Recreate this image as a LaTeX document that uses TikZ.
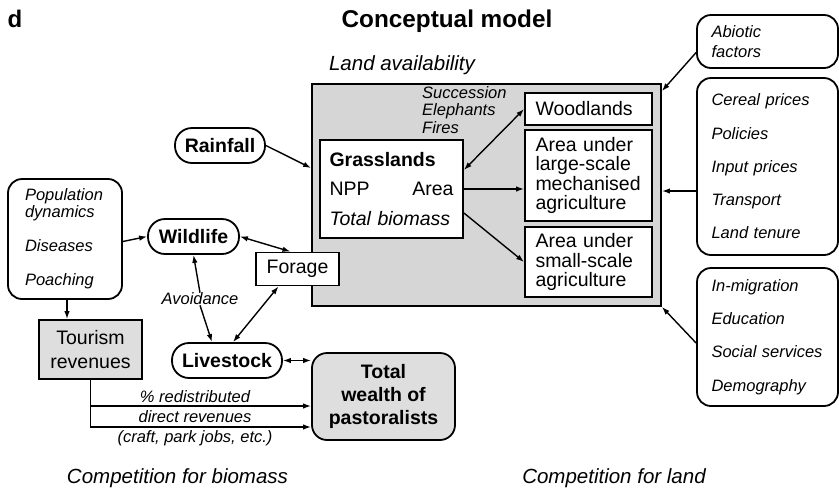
\documentclass[tikz,border=0pt]{standalone}
\usepackage{fontspec}
\setmainfont{Liberation Sans}
\usetikzlibrary{calc,
	positioning,
	arrows,
	arrows.meta,
	shapes}
\definecolor{landgray}{gray}{0.84}
\definecolor{boxgray}{gray}{0.87}
\tikzstyle{bx}=[draw, line width=1.8pt, fill=white, inner sep=0, align=left,
		font=\fontsize{19.5}{19.5}\selectfont]
\tikzstyle{lb}=[bx, minimum width=127pt, text width=106pt]
\tikzstyle{pill}=[bx, rounded corners=17pt, minimum height=35pt, align=center,
		font=\bfseries\fontsize{19.5}{19.5}\selectfont]
\tikzstyle{lst}=[draw, line width=1.8pt, rounded corners=14pt, inner sep=0,
		align=left, minimum width=141pt, text width=112pt,
		font=\itshape\fontsize{16.5}{33.3}\selectfont]
\tikzstyle{note}=[inner sep=0, align=left, font=\itshape\fontsize{16.5}{17.5}\selectfont]
\tikzstyle{big}=[inner sep=0, font=\itshape\fontsize{20.5}{20.5}\selectfont]
\tikzstyle{arr}=[-{Latex[length=8pt,width=5.5pt]}, line width=1.4pt]
\tikzstyle{darr}=[{Latex[length=8pt,width=5.5pt]}-{Latex[length=8pt,width=5.5pt]}, line width=1.4pt]

\begin{document}
\begin{tikzpicture}[x=1pt, y=-1pt]
	\useasboundingbox (0,0) rectangle (839,491);
	% headings
	\node[font=\bfseries\fontsize{24}{24}\selectfont] (d) at (15,19) {d};
	\node[font=\bfseries\fontsize{24.3}{24.3}\selectfont] (title) at (447,21) {Conceptual model};
	\node[big] (landav) at (402,65) {Land availability};
	\node[big] (compbio) at (177.5,478) {Competition for biomass};
	\node[big] (compland) at (614,478) {Competition for land};

	% land block
	\node[draw, line width=1.8pt, fill=landgray, minimum width=349pt,
		minimum height=222pt] (land) at (486.5,195) {};
	\node[bx, minimum width=143pt, minimum height=98pt, text width=124pt,
		font=\fontsize{19.5}{29.5}\selectfont] (grass) at (391.5,189)
		{\textbf{Grasslands}\\NPP\hfill Area\\\textit{Total biomass}};
	\node[note, anchor=west] (drivers) at (422,110) {Succession\\Elephants\\Fires};
	\node[lb, minimum height=32pt] (wood) at (588.5,109) {Woodlands};
	\node[lb, minimum height=91pt] (mech) at (588.5,175.5)
		{Area under\\large-scale\\mechanised\\agriculture};
	\node[lb, minimum height=70pt] (small) at (588.5,262)
		{Area under\\small-scale\\agriculture};

	% right side
	\node[lst, minimum height=53pt, font=\itshape\fontsize{16.5}{20}\selectfont]
		(abiotic) at (767.5,41.5) {Abiotic\\factors};
	\node[lst, minimum height=177pt] (prices) at (767.5,166.5)
		{Cereal prices\\Policies\\Input prices\\Transport\\Land tenure};
	\node[lst, minimum height=138pt] (social) at (767.5,337)
		{In-migration\\Education\\Social services\\Demography};

	% left side
	\node[pill, minimum width=90pt] (rain) at (220,145.5) {Rainfall};
	\node[lst, minimum width=114pt, minimum height=120pt, text width=80pt,
		font=\itshape\fontsize{16.5}{17}\selectfont] (pop) at (65,239)
		{Population\\dynamics\\[17pt]Diseases\\[17pt]Poaching};
	\node[pill, minimum width=91pt] (wild) at (193.5,236.5) {Wildlife};
	\node[bx, minimum width=83pt, minimum height=33pt, align=center] (forage) at (297.5,269) {Forage};
	\node[note] (avoid) at (200,299) {Avoidance};
	\node[pill, minimum width=110pt] (live) at (227,360.5) {Livestock};
	\node[bx, fill=boxgray, minimum width=103pt, minimum height=59pt, align=center,
		font=\fontsize{19.5}{24}\selectfont] (tour) at (90.5,349.5) {Tourism\\revenues};
	\node[bx, fill=boxgray, rounded corners=15pt, minimum width=143pt, minimum height=87pt,
		align=center, font=\bfseries\fontsize{19.5}{23}\selectfont] (wealth) at (383.5,396.5)
		{Total\\wealth of\\pastoralists};
	\coordinate (up) at ([yshift=-9.5pt]wealth.west);
	\coordinate (low) at ([yshift=-30.5pt]wealth.west);
	\node[note, anchor=south] (redis) at (195,403) {\% redistributed};
	\node[note] (direct) at (195,417) {direct revenues};
	\node[note, anchor=north] (craft) at (195,430) {(craft, park jobs, etc.)};

	% connectors
	\draw[arr] (rain.east) -- ([yshift=27pt]land.west);
	\draw[darr] ([yshift=19pt]grass.east) -- (wood.west);
	\draw[arr] (grass.east) -- (grass.east -| mech.west);
	\draw[arr] ([yshift=-24pt]grass.east) -- (small.west);
	\draw[arr] ([yshift=-11pt]abiotic.west) -- ([yshift=-8pt]land.north east);
	\draw[arr] ([yshift=-24.5pt]prices.west) -- ([yshift=-24.5pt]prices.west -| land.east);
	\draw[arr] ([yshift=-6pt]social.west) -- (land.south east);
	\draw[arr] ([yshift=-2.5pt]pop.east) -- (wild.west);
	\draw[darr] (wild.east) -- ([xshift=-7pt]forage.north);
	\draw[arr] (avoid.north) -- (wild.south);
	\draw[arr] (avoid.south) -- ([xshift=-15pt]live.north);
	\draw[darr] ([xshift=6pt]live.north) -- ([xshift=-19pt]forage.south);
	\draw[darr] (live.east) -- (live.east -| wealth.west);
	\draw[arr] ([xshift=2pt]pop.south) -- ([xshift=2pt]pop.south |- tour.north);
	\draw[arr] (tour.south) |- (low);
	\draw[arr] (tour.south |- up) -- (up);
\end{tikzpicture}
\end{document}
